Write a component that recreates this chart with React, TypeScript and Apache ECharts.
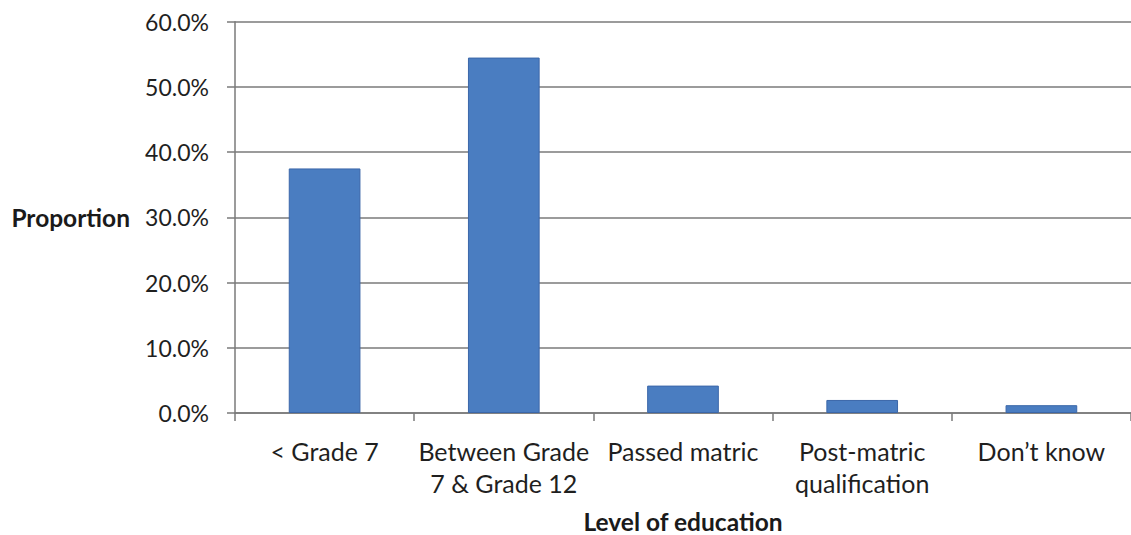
import React, { useEffect, useRef } from "react";
import * as echarts from "echarts";

const categories = [
  "< Grade 7",
  "Between Grade\n7 & Grade 12",
  "Passed matric",
  "Post-matric\nqualification",
  "Don’t know",
];
const values = [37.5, 54.5, 4.2, 2.0, 1.2];
const yTicks = { min: 0, max: 60, interval: 10 };
const yAxisTitle = "Proportion";
const xAxisTitle = "Level of education";

const FONT = "Lato, 'Open Sans', sans-serif";

export default function App() {
  const ref = useRef<HTMLDivElement>(null);
  useEffect(() => {
    if (!ref.current) return;
    const chart = echarts.init(ref.current, undefined, { renderer: "svg" });
    chart.setOption({
      animation: false,
      backgroundColor: "#ffffff",
      textStyle: { fontFamily: FONT },
      grid: {
        left: 235,
        right: 0,
        top: 21.7,
        bottom: 122,
        containLabel: false,
        outerBoundsMode: "none",
      },
      xAxis: {
        type: "category",
        data: categories,
        name: xAxisTitle,
        nameLocation: "middle",
        nameGap: 96,
        nameTextStyle: { fontFamily: FONT, fontSize: 24.5, fontWeight: "bold", color: "#1a1a1a" },
        axisLine: { show: true, lineStyle: { color: "#7a7a7a", width: 1.5 } },
        axisTick: { show: true, length: 8, alignWithLabel: false, lineStyle: { color: "#7a7a7a", width: 1.5 } },
        axisLabel: {
          interval: 0,
          margin: 22,
          fontFamily: FONT,
          fontSize: 25,
          lineHeight: 32,
          color: "#1f1f1f",
        },
      },
      yAxis: {
        type: "value",
        min: yTicks.min,
        max: yTicks.max,
        interval: yTicks.interval,
        name: yAxisTitle,
        nameLocation: "middle",
        nameRotate: 0,
        nameGap: 105,
        nameTextStyle: { fontFamily: FONT, fontSize: 24.5, fontWeight: "bold", color: "#1a1a1a", align: "right" },
        axisLine: { show: true, lineStyle: { color: "#7a7a7a", width: 1.5 } },
        axisTick: { show: true, length: 8, lineStyle: { color: "#7a7a7a", width: 1.5 } },
        axisLabel: {
          margin: 26,
          fontFamily: FONT,
          fontSize: 23,
          color: "#1f1f1f",
          formatter: (v: number) => v.toFixed(1) + "%",
        },
        splitLine: { show: true, lineStyle: { color: "#7a7a7a", width: 1.5 } },
      },
      series: [
        {
          type: "bar",
          data: values,
          barWidth: "40%",
          itemStyle: {
            color: "#4a7dc1",
            borderColor: "#3b67a9",
            borderWidth: 1,
          },
        },
      ],
    });
    return () => chart.dispose();
  }, []);
  return (
    <div
      ref={ref}
      style={{ position: "absolute", left: 0, top: 0, width: 1131, height: 535 }}
    />
  );
}
